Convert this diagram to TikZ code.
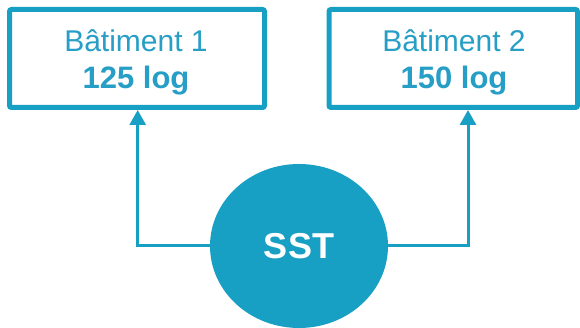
\documentclass[tikz,border=0pt]{standalone}
\usepackage{fontspec}
\setmainfont{Liberation Sans}
\usetikzlibrary{arrows.meta}
\definecolor{sstblue}{RGB}{24,160,196}
\definecolor{labelblue}{RGB}{38,158,198}
\tikzset{
  x=1pt, y=1pt,
  building/.style={draw=sstblue, line width=5pt, rounded corners=2pt,
    minimum height=98pt, inner sep=0pt, fill=white},
  bname/.style={anchor=base, text=labelblue, inner sep=0pt,
    font=\fontsize{30}{36}\selectfont},
  bcount/.style={anchor=base, text=labelblue, inner sep=0pt,
    font=\fontsize{31}{36}\selectfont\bfseries},
  hub/.style={ellipse, fill=sstblue, minimum width=178pt, minimum height=164pt,
    inner sep=0pt, text=white, font=\fontsize{36}{40}\selectfont\bfseries},
  link/.style={draw=sstblue, line width=3pt,
    -{Triangle[length=15pt,width=16pt]}}
}
\usetikzlibrary{shapes.geometric}
\begin{document}
\begin{tikzpicture}
  \useasboundingbox (0,0) rectangle (580,328);
  % buildings
  \node[building, minimum width=255pt] (b1) at (137,269.5) {};
  \node[building, minimum width=248.5pt] (b2) at (453.25,269.5) {};
  \node[bname] (b1name) at (136,276) {Bâtiment 1};
  \node[bcount] (b1count) at (136,239) {125 log};
  \node[bname] (b2name) at (454,276) {Bâtiment 2};
  \node[bcount] (b2count) at (454,239) {150 log};
  % central node
  \node[hub] (sst) at (299,82) {\raisebox{-2.5pt}{SST}};
  % connectors
  \draw[link] (sst.west) -| ([xshift=0.7pt]b1.south);
  \draw[link] (sst.east) -| ([xshift=14.75pt]b2.south);
\end{tikzpicture}
\end{document}
